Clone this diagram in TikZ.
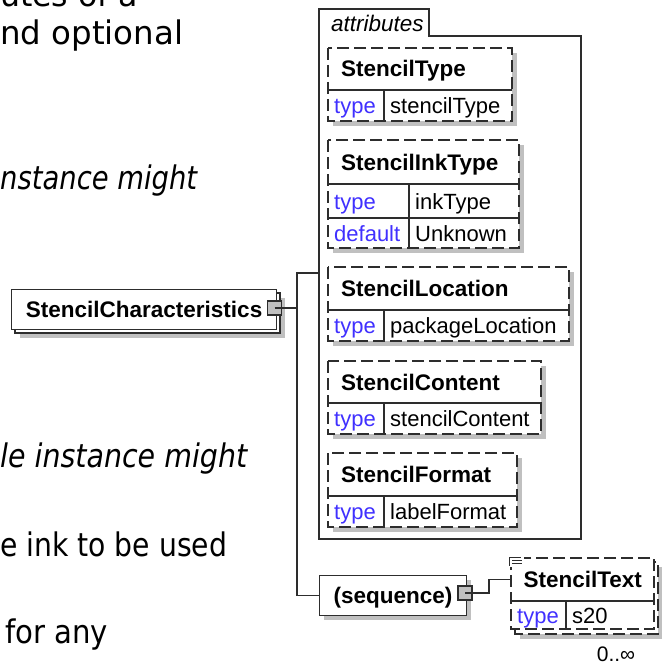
\documentclass[tikz,border=0pt]{standalone}
\usepackage{graphicx}
\usepackage{fontspec}
\setmainfont{Liberation Sans}
\newfontfamily\prosefont{DejaVu Sans}
\definecolor{keyblue}{RGB}{64,48,255}
\definecolor{shadegray}{RGB}{192,192,192}
\definecolor{linegray}{RGB}{45,45,45}

\begin{document}
\begin{tikzpicture}[x=1pt,y=-1pt,line join=miter,
  every node/.style={inner sep=0pt},
  frame/.style={draw=linegray,line width=1.2pt},
  dashframe/.style={frame,dash pattern=on 12pt off 5pt},
  elbox/.style={frame,fill=white,rectangle,anchor=north west,
    font=\bfseries\fontsize{22.5}{24}\selectfont,text height=16pt,text depth=0pt},
  elname/.style={anchor=west,font=\bfseries\fontsize{22.5}{24}\selectfont,
    text height=16pt,text depth=0pt},
  attrkey/.style={anchor=west,text=keyblue,font=\fontsize{22}{24}\selectfont,
    text height=16pt,text depth=0pt},
  attrval/.style={anchor=west,font=\fontsize{22}{24}\selectfont,
    text height=16pt,text depth=0pt},
  sqbox/.style={frame,fill=shadegray,rectangle,minimum size=14pt},
  prose/.style={anchor=base west,font=\prosefont\fontsize{32.5}{36}\selectfont},
  proseit/.style={anchor=base west,font=\prosefont\itshape\fontsize{32.5}{36}\selectfont}]
  \useasboundingbox[fill=white] (0,0) rectangle (662,666);

  % cut-off prose on the left
  \node[prose] (p1) at (0,7) {\resizebox{138pt}{\height}{utes of a}};
  \node[prose] (p2) at (0,45) {\resizebox{183pt}{\height}{nd optional}};
  \node[proseit] (p3) at (0,189) {\resizebox{197pt}{\height}{nstance might}};
  \node[proseit] (p4) at (0,467) {\resizebox{247pt}{\height}{le instance might}};
  \node[prose] (p5) at (0,556) {\resizebox{227pt}{\height}{e ink to be used}};
  \node[prose] (p6) at (5,643) {\resizebox{103pt}{\height}{for any}};

  % root element
  \fill[shadegray] (20,298) rectangle (285,338);
  \draw[frame,fill=white] (15,293) rectangle (280,333);
  \node[elbox,minimum width=265pt,minimum height=40pt] (chars) at (11,289) {StencilCharacteristics};
  \node[sqbox] (charsq) at (274.5,308) {};

  % attributes container
  \draw[frame] (319,539) -- (319,9) -- (429,9) -- (429,36) -- (581,36) -- (581,539) -- cycle;
  \node[anchor=west,font=\itshape\fontsize{22.5}{24}\selectfont] (attrlabel) at (331,23) {attributes};
  \coordinate (attrjoin) at (319,273);
  \coordinate (fork) at (297,308);

  \foreach \nm/\val/\ytop/\xright/\ymid/\ybot in {%
      StencilType/stencilType/48/512/90/121,
      StencilLocation/packageLocation/267/569/310/341,
      StencilContent/stencilContent/361/541/403/434,
      StencilFormat/labelFormat/453/517/496/527} {
    \fill[shadegray] (333,\ytop+5) rectangle (\xright+5,\ybot+5);
    \fill[white] (328,\ytop) rectangle (\xright,\ybot);
    \draw[dashframe] (328,\ytop) rectangle (\xright,\ybot);
    \draw[frame] (328,\ymid) -- (\xright,\ymid) (384,\ymid) -- (384,\ybot);
    \node[elname] (\nm-name) at (341,{(\ytop+\ymid)/2}) {\nm};
    \node[attrkey] (\nm-key) at (334,{(\ymid+\ybot)/2}) {type};
    \node[attrval] (\nm-val) at (390,{(\ymid+\ybot)/2}) {\val};
  }

  % ink type has a default too
  \fill[shadegray] (333,145) rectangle (524,253);
  \fill[white] (328,140) rectangle (519,248);
  \draw[dashframe] (328,140) rectangle (519,248);
  \draw[frame] (328,184) -- (519,184) (328,218) -- (519,218) (409,184) -- (409,248);
  \node[elname] (ink-name) at (341,162) {StencilInkType};
  \node[attrkey] (ink-key) at (334,201) {type};
  \node[attrval] (ink-val) at (415,201) {inkType};
  \node[attrkey] (ink-dkey) at (334,233) {default};
  \node[attrval] (ink-dval) at (415,233) {Unknown};

  % sequence
  \fill[shadegray] (324,580) rectangle (471,620);
  \node[elbox,minimum width=147pt,minimum height=40pt] (seq) at (319,575) {(sequence)};
  \node[sqbox] (seqsq) at (465,593) {};

  % repeated child element
  \fill[shadegray] (520,567) rectangle (662,639);
  \fill[white] (515,562) rectangle (658,634);
  \draw[dashframe] (515,562) rectangle (658,634);
  \fill[white] (511,558) rectangle (654,629);
  \draw[dashframe] (511,558) rectangle (654,629);
  \draw[frame] (511,601) -- (654,601) (566,601) -- (566,629);
  \node[anchor=north west,minimum width=143pt,minimum height=43pt,
    font=\bfseries\fontsize{22.5}{24}\selectfont,text height=16pt,text depth=0pt] (stext) at (511,558) {StencilText};
  \node[attrkey] (stext-key) at (517,615) {type};
  \node[attrval] (stext-val) at (572,615) {s20};
  \fill[white] (507,553) rectangle (524,567);
  \draw[frame,line width=0.9pt] (509,557) -- (521,557) (509,557) -- (509,566)
    (512,560.5) -- (522,560.5) (512,563.5) -- (522,563.5);
  \node[font=\fontsize{21}{22}\selectfont] (occurs) at (616,654) {0..∞};

  % connectors
  \draw[frame] (charsq.center) -- (fork);
  \draw[frame] (attrjoin) -| (fork) |- (seq.west);
  \draw[frame] (seqsq.center) -- ++(24,0) |- (stext.west);
\end{tikzpicture}
\end{document}
